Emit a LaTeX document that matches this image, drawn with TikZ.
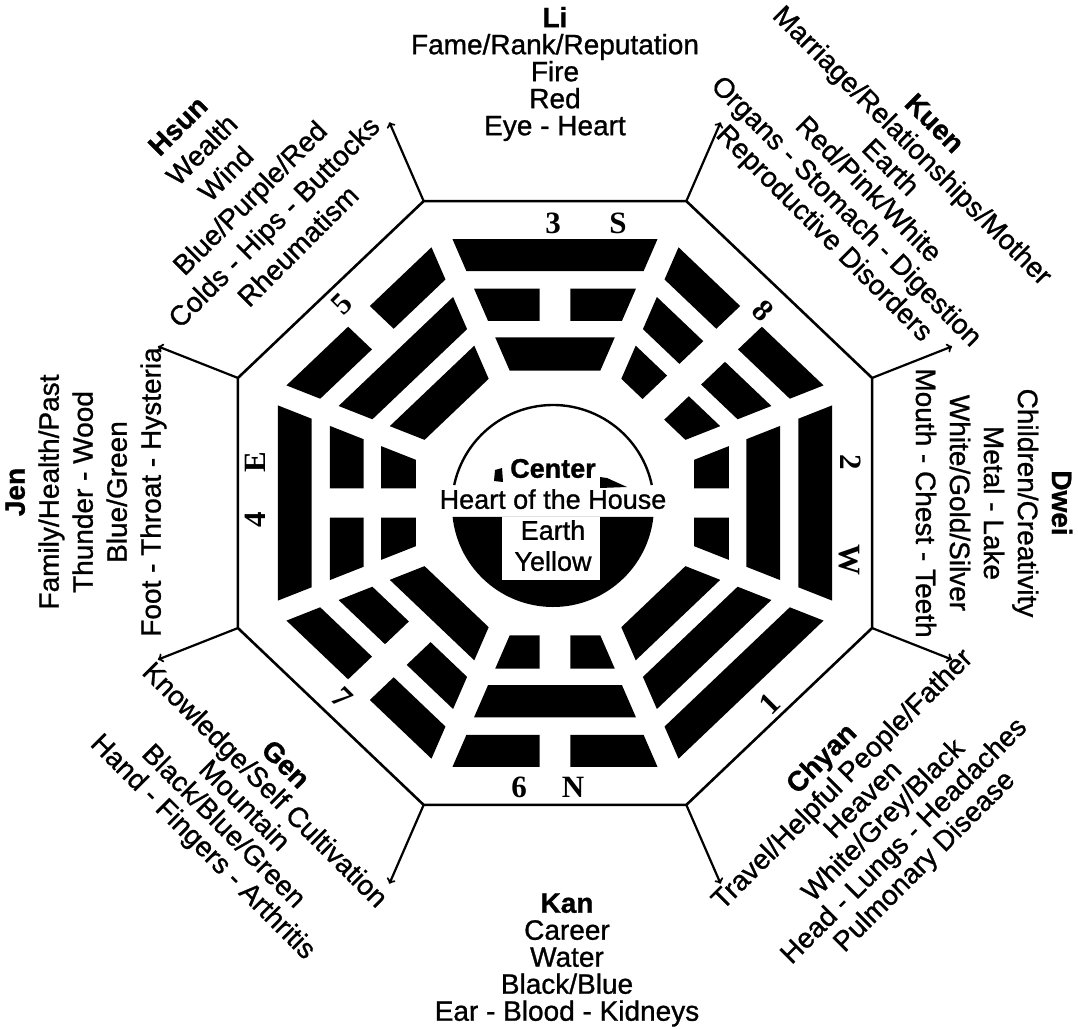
\documentclass[tikz,border=0pt]{standalone}
\usepackage{fontspec}
\setmainfont{Liberation Sans}[FakeBold=1]
\newfontfamily\numfont{Liberation Serif}
\usetikzlibrary{calc}

\begin{document}
\begin{tikzpicture}[x=1pt, y=1pt,
    gua/.style={align=center, inner sep=0pt, font=\fontsize{28}{27}\selectfont},
    num/.style={inner sep=0pt, font=\numfont\bfseries\fontsize{31}{31}\selectfont},
    spoke/.style={->, line width=2.2pt}]

    \useasboundingbox (-555,-525) rectangle (523,503);
    \coordinate (o) at (0,0);

    % Octagon corners and trigram bars
    \begin{scope}[xscale=1.023, yscale=0.974]
        \foreach \k in {1,...,8}
            \coordinate (v\k) at ({112.5-45*\k}:335.5);
        \foreach \ang/\rowa/\rowb/\rowc in {90/1/0/1, 45/0/0/0, 0/1/1/0, -45/1/1/1, -90/0/1/0, -135/0/0/1, 180/1/0/0, 135/0/1/1}
            \foreach \full/\lo/\hi in {\rowa/238/271, \rowb/187/220, \rowc/136/170} {
                \ifnum\full=1\relax
                    \fill[rotate={\ang-90}] ({-0.4142*\lo+12},\lo) -- ({0.4142*\lo-12},\lo) -- ({0.4142*\hi-12},\hi) -- ({-0.4142*\hi+12},\hi) -- cycle;
                \else
                    \fill[rotate={\ang-90}] ({-0.4142*\lo+12},\lo) -- (-15,\lo) -- (-15,\hi) -- ({-0.4142*\hi+12},\hi) -- cycle
                        (15,\lo) -- ({0.4142*\lo-12},\lo) -- ({0.4142*\hi-12},\hi) -- (15,\hi) -- cycle;
                \fi
            }
    \end{scope}

    % Octagon
    \draw[line width=2.6pt, line join=round] (v1) -- (v2) -- (v3) -- (v4) -- (v5) -- (v6) -- (v7) -- (v8) -- cycle;

    % Spokes
    \foreach \k in {1,...,8} {
        \coordinate (e\k) at ($(v\k)!-86pt!(o)$);
        \draw[spoke] (v\k) -- (e\k);
    }

    % Center
    \coordinate (ctr) at (-2,-3);
    \draw[line width=2.4pt] ([shift={(12:101)}]ctr) arc[start angle=12, end angle=168, radius=101];
    \fill ([shift={(-6.25:101)}]ctr) arc[start angle=-6.25, end angle=-173.75, radius=101] -- cycle;
    \fill[white] (-53,-14) rectangle (45,-77);
    \fill (-61,22) -- (-60,33) -- (-53,35) -- (-52,21) -- cycle;
    \fill (45,26) -- (52,25) -- (72,16) -- (45,15) -- cycle;
    \node[gua, font=\fontsize{27}{31}\selectfont] (center) at (-2,-12) {\textbf{Center}\\Heart of the House\\Earth\\Yellow};

    % Directions and numbers
    \node[num] (n3) at (-2,280) {3};
    \node[num] (nS) at (63,280) {S};
    \node[num, rotate=-45] (n8) at (208,192) {8};
    \node[num, rotate=-90] (n2) at (296,41) {2};
    \node[num, rotate=-90] (nW) at (294,-57) {W};
    \node[num, rotate=45] (n1) at (215,-201) {1};
    \node[num] (n6) at (-36,-284) {6};
    \node[num] (nN) at (18,-284) {N};
    \node[num, rotate=-45] (n7) at (-213,-195) {7};
    \node[num, rotate=90] (n4) at (-300,-17) {4};
    \node[num, rotate=90] (nE) at (-300,41) {E};
    \node[num, rotate=45] (n5) at (-213,199) {5};

    % Areas
    \node[gua] (li) at (0,429) {\textbf{Li}\\Fame/Rank/Reputation\\Fire\\Red\\Eye - Heart};
    \node[gua, font=\fontsize{28}{31}\selectfont, rotate=-45] (kuen) at (323,323) {\textbf{Kuen}\\Marriage/Relationships/Mother\\Earth\\Red/Pink/White\\Organs - Stomach - Digestion\\Reproductive Disorders};
    \node[gua, font=\fontsize{28}{34}\selectfont, rotate=-90] (dwei) at (439,0) {\textbf{Dwei}\\Children/Creativity\\Metal - Lake\\White/Gold/Silver\\Mouth - Chest - Teeth};
    \node[gua, font=\fontsize{28}{29}\selectfont, rotate=45] (chyan) at (319,-308) {\textbf{Chyan}\\Travel/Helpful People/Father\\Heaven\\White/Grey/Black\\Head - Lungs - Headaches\\Pulmonary Disease};
    \node[gua] (kan) at (12,-457) {\textbf{Kan}\\Career\\Water\\Black/Blue\\Ear - Blood - Kidneys};
    \node[gua, font=\fontsize{28}{29}\selectfont, rotate=-45] (gen) at (-312,-304) {\textbf{Gen}\\Knowledge/Self Cultivation\\Mountain\\Black/Blue/Green\\Hand - Fingers - Arthritis};
    \node[gua, font=\fontsize{28}{34}\selectfont, rotate=90] (jen) at (-469,11) {\textbf{Jen}\\Family/Health/Past\\Thunder - Wood\\Blue/Green\\Foot - Throat - Hysteria};
    \node[gua, font=\fontsize{28}{34}\selectfont, rotate=45] (hsun) at (-317,317) {\textbf{Hsun}\\Wealth\\Wind\\Blue/Purple/Red\\Colds - Hips - Buttocks\\Rheumatism};

\end{tikzpicture}
\end{document}
